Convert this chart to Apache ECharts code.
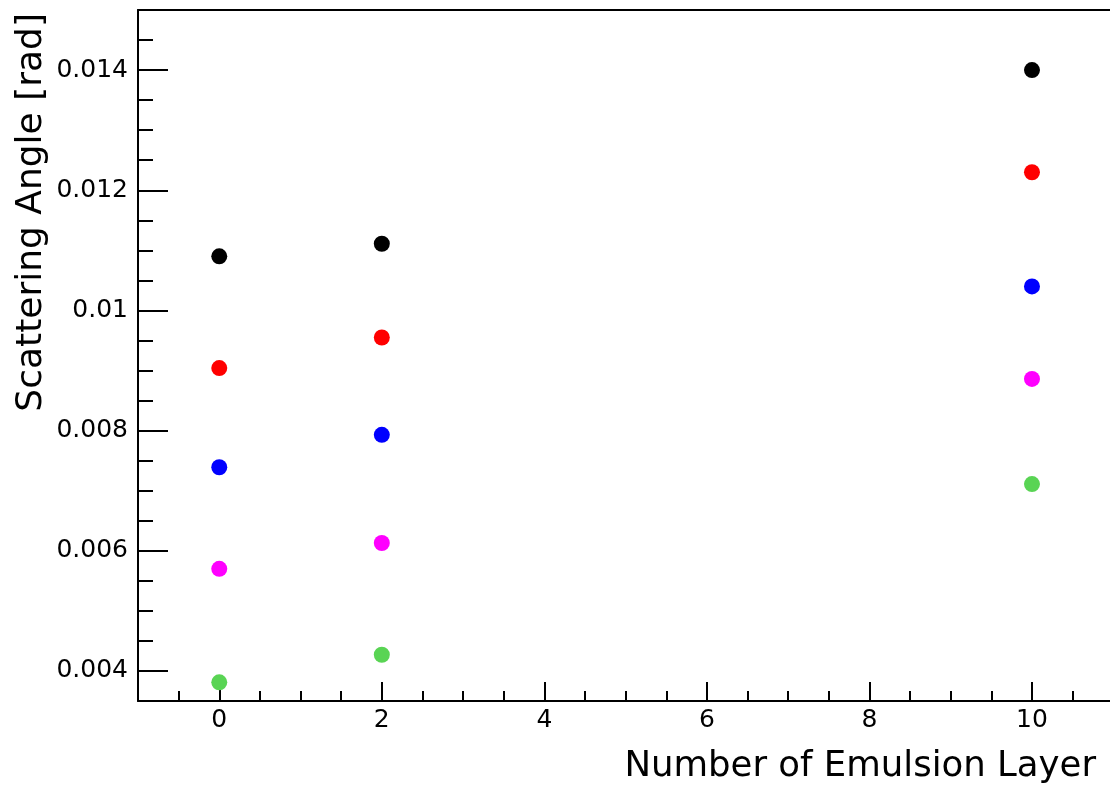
<!DOCTYPE html>
<html>
<head>
<meta charset="utf-8">
<script src="https://cdn.jsdelivr.net/npm/echarts@6/dist/echarts.min.js"></script>
<style>
html,body{margin:0;padding:0;background:#fff;}
#chart{width:1110px;height:786px;}
</style>
</head>
<body>
<div id="chart"></div>
<script>
// ---- data ----
var xValues = [0, 2, 10];
var blackValues = [0.01090, 0.01111, 0.01400];
var redValues = [0.00904, 0.00955, 0.01230];
var blueValues = [0.00739, 0.00793, 0.01040];
var magentaValues = [0.00570, 0.00613, 0.00886];
var greenValues = [0.00381, 0.00427, 0.00711];

var xMajorTicks = [0, 2, 4, 6, 8, 10];
var xTickLabels = ['0', '2', '4', '6', '8', '10'];
var xMinorTicks = [-0.5, 0.5, 1, 1.5, 2.5, 3, 3.5, 4.5, 5, 5.5, 6.5, 7, 7.5, 8.5, 9, 9.5, 10.5];
var yMajorTicks = [0.004, 0.006, 0.008, 0.010, 0.012, 0.014];
var yTickLabels = ['0.004', '0.006', '0.008', '0.01', '0.012', '0.014'];
var yMinorTicks = [0.0045, 0.005, 0.0055, 0.0065, 0.007, 0.0075, 0.0085, 0.009, 0.0095,
                   0.0105, 0.011, 0.0115, 0.0125, 0.013, 0.0135, 0.0145];

var xTitle = 'Number of Emulsion Layer';
var yTitle = 'Scattering Angle [rad]';

// ---- chart ----
var FONT = 'DejaVu Sans';
function labelFor(ticks, labels) {
  return function (v) {
    for (var i = 0; i < ticks.length; i++) {
      if (Math.abs(ticks[i] - v) < 1e-9) return labels[i];
    }
    return '';
  };
}
function pairs(ys) {
  return xValues.map(function (x, i) { return [x, ys[i]]; });
}
var XMIN = -1, XMAX = 10.96, YMIN = 0.0035, YMAX = 0.015;
var lineStyle = {color: '#000', width: 2};

var chart = echarts.init(document.getElementById('chart'), null, {renderer: 'canvas'});
var option = {
  animation: false,
  backgroundColor: '#fff',
  grid: {left: 138, top: 10, right: 0, height: 691, containLabel: false},
  xAxis: [
    {
      type: 'value', min: XMIN, max: XMAX, position: 'bottom',
      axisLine: {show: true, onZero: false, lineStyle: lineStyle},
      axisTick: {show: true, inside: true, length: 19, customValues: xMajorTicks, lineStyle: {color: '#000', width: 2}},
      axisLabel: {show: true, customValues: xMajorTicks, formatter: labelFor(xMajorTicks, xTickLabels),
                  margin: 7, color: '#000', fontFamily: FONT, fontSize: 25},
      splitLine: {show: false},
      name: xTitle, nameLocation: 'end', nameGap: -14,
      nameTextStyle: {align: 'right', verticalAlign: 'top', padding: [48, 0, 0, 0],
                      color: '#000', fontFamily: FONT, fontSize: 35.5}
    },
    {
      type: 'value', min: XMIN, max: XMAX, position: 'bottom',
      axisLine: {show: false, onZero: false},
      axisTick: {show: true, inside: true, length: 10, customValues: xMinorTicks, lineStyle: {color: '#000', width: 2}},
      axisLabel: {show: false},
      splitLine: {show: false}
    },
    {
      type: 'value', min: XMIN, max: XMAX, position: 'top',
      axisLine: {show: true, onZero: false, lineStyle: lineStyle},
      axisTick: {show: false}, axisLabel: {show: false}, splitLine: {show: false}
    }
  ],
  yAxis: [
    {
      type: 'value', min: YMIN, max: YMAX, position: 'left',
      axisLine: {show: true, onZero: false, lineStyle: lineStyle},
      axisTick: {show: true, inside: true, length: 30, customValues: yMajorTicks, lineStyle: {color: '#000', width: 2}},
      axisLabel: {show: true, customValues: yMajorTicks, formatter: labelFor(yMajorTicks, yTickLabels),
                  margin: 10, color: '#000', fontFamily: FONT, fontSize: 25},
      splitLine: {show: false},
      name: yTitle, nameLocation: 'end', nameGap: -3, nameRotate: 90,
      nameTextStyle: {align: 'right', verticalAlign: 'bottom', padding: [0, 0, 88, 0],
                      color: '#000', fontFamily: FONT, fontSize: 36}
    },
    {
      type: 'value', min: YMIN, max: YMAX, position: 'left',
      axisLine: {show: false, onZero: false},
      axisTick: {show: true, inside: true, length: 15, customValues: yMinorTicks, lineStyle: {color: '#000', width: 2}},
      axisLabel: {show: false},
      splitLine: {show: false}
    }
  ],
  series: [
    {name: 'black', color: '#000000', data: pairs(blackValues)},
    {name: 'red', color: '#ff0000', data: pairs(redValues)},
    {name: 'blue', color: '#0000ff', data: pairs(blueValues)},
    {name: 'magenta', color: '#ff00ff', data: pairs(magentaValues)},
    {name: 'green', color: '#59d454', data: pairs(greenValues)}
  ].map(function (s) {
    return {
      type: 'scatter', name: s.name, xAxisIndex: 0, yAxisIndex: 0,
      symbol: 'circle', symbolSize: 16,
      itemStyle: {color: s.color, opacity: 1},
      emphasis: {disabled: true},
      data: s.data
    };
  })
};
chart.setOption(option);
</script>
</body>
</html>
